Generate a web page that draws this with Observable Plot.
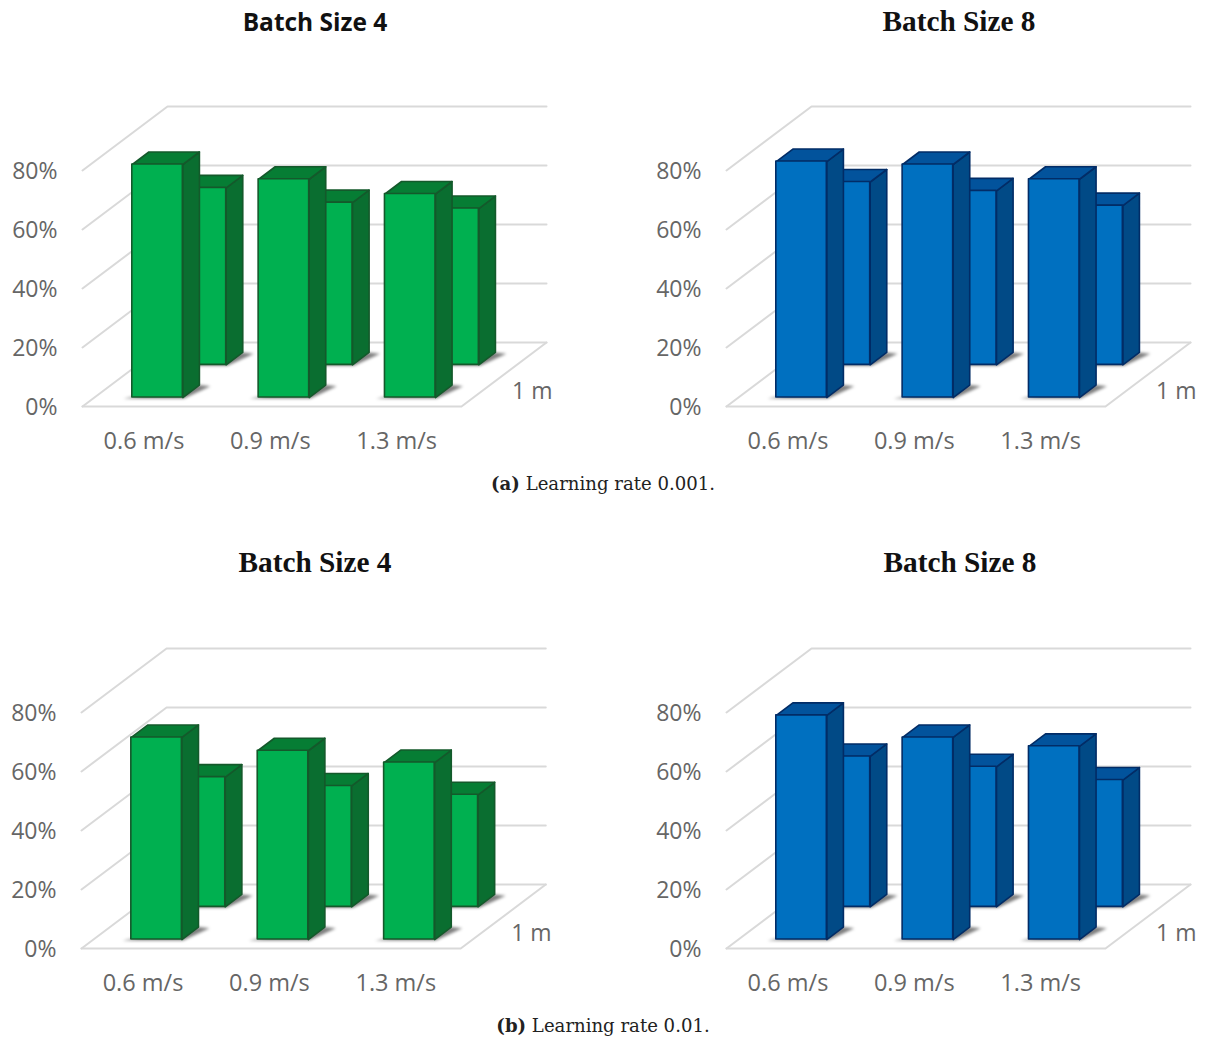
<!DOCTYPE html>
<html>
<head>
<meta charset="utf-8">
<script src="https://cdn.jsdelivr.net/npm/d3@7"></script>
<script src="https://cdn.jsdelivr.net/npm/@observablehq/plot@0.6"></script>
<style>
  html, body { margin: 0; padding: 0; background: #fff; overflow: hidden; }
  #page { position: relative; width: 1205px; height: 1038px; }
  #page svg { position: absolute; overflow: visible; }
  .title { position: absolute; transform: translateX(-50%); white-space: nowrap;
           font: bold 29.3px "Liberation Serif", serif; color: #111; }
  .title.sans { font: bold 24.5px "Open Sans", sans-serif; }
  .caption { position: absolute; transform: translateX(-50%); white-space: nowrap;
             font: 18.1px "DejaVu Serif", serif; color: #222; }
</style>
</head>
<body>
<div id="page"></div>
<script>
// Category and tick labels
const speeds = ["0.6 m/s", "0.9 m/s", "1.3 m/s"];
const percentTicks = [0, 20, 40, 60, 80];
const distanceLabel = "1 m";

// Accuracy (%) per speed: near row and far row of each panel
const lr001Batch4Near = [79, 74, 69];
const lr001Batch4Far = [60, 55, 53];
const lr001Batch8Near = [80, 79, 74];
const lr001Batch8Far = [62, 59, 54];
const lr01Batch4Near = [68.5, 64, 60];
const lr01Batch4Far = [44, 41, 38];
const lr01Batch8Near = [76, 68.5, 65.5];
const lr01Batch8Far = [51, 47.5, 43];

const green = {front: "#00b050", side: "#0a6e30", top: "#067d34", edge: "#14592b"};
const blue = {front: "#0070c0", side: "#014a86", top: "#02539c", edge: "#022c66"};

// Oblique projection: a unit of depth moves right along x and up the percent axis
const depthX = 0.673, depthY = 21.7;
const at = (u, d, v) => ({X: u + d * depthX, Y: v + d * depthY});
const halfWidth = 0.2, rowDepth = 0.195;
const rows = {near: 0.14, far: 0.65};

const poly = (points, options) =>
  Plot.line([...points, points[0]], {x: "X", y: "Y", curve: "linear", ...options});

function barMarks(i, value, d0, c) {
  const u0 = i + 0.5 - halfWidth, u1 = i + 0.5 + halfWidth, d1 = d0 + rowDepth;
  const edge = {stroke: c.edge, strokeWidth: 1.6, strokeLinejoin: "round"};
  const a = at(u0, d0, value), b = at(u1, d0, 0);
  return [
    // soft contact shadow on the floor
    poly([at(u0 - 0.06, d0 - 0.015, 0), at(u1 + 0.02, d0 - 0.015, 0), at(u1 + 0.1, d1 - 0.02, 0), at(u1, d1, 0)],
      {fill: "#000", fillOpacity: 0.5, stroke: "none", imageFilter: "blur(1.5px)"}),
    poly([at(u1, d0, 0), at(u1, d1, 0), at(u1, d1, value), at(u1, d0, value)], {fill: c.side, ...edge}),
    poly([at(u0, d0, value), at(u1, d0, value), at(u1, d1, value), at(u0, d1, value)], {fill: c.top, ...edge}),
    Plot.rect([{x1: a.X, x2: b.X, y1: b.Y, y2: a.Y}], {x1: "x1", x2: "x2", y1: "y1", y2: "y2", fill: c.front, ...edge})
  ];
}

function panel({near, far, colors, originX, floorY, unit}) {
  const left = originX - 82, top = floorY - 346;
  const pxPerPercent = 2.95;
  const marginLeft = 60, width = 600, plotHeight = 346;
  const wall = percentTicks.map((v) => [at(0, 0, v), at(0, 1, v), at(3, 1, v)]);
  const floorEdge = [at(0, 0, 0), at(3, 0, 0), at(3, 1, 0)];
  const grid = {x: "X", y: "Y", stroke: "#d9d9d9", strokeWidth: 2, curve: "linear"};

  const chart = Plot.plot({
    width, height: plotHeight + 60,
    marginLeft, marginRight: 0, marginTop: 0, marginBottom: 60,
    x: {domain: [(marginLeft - 82) / unit, (width - 82) / unit], range: [marginLeft, width]},
    y: {domain: [0, plotHeight / pxPerPercent], range: [plotHeight, 0]},
    style: {color: "#666666", background: "transparent", fontFamily: "'Open Sans', sans-serif"},
    marks: [
      wall.map((line) => Plot.line(line, grid)),
      Plot.line(floorEdge, grid),
      far.flatMap((v, i) => barMarks(i, v, rows.far, colors)),
      near.flatMap((v, i) => barMarks(i, v, rows.near, colors)),
      Plot.axisY({ticks: percentTicks, tickFormat: (d) => d + "%", tickSize: 0, tickPadding: 3, dy: 1.5, label: null, fontSize: 23}),
      Plot.axisX({ticks: speeds.map((_, i) => i + 0.5), tickFormat: (d) => speeds[Math.floor(d)],
        tickSize: 0, tickPadding: 26, dx: -1.7, label: null, fontSize: 23.5}),
      Plot.text([at(3, 0.5, 0)], {x: "X", y: "Y", text: () => distanceLabel, textAnchor: "start",
        dx: 8, dy: 17, fontSize: 23, fill: "#666666"})
    ]
  });
  chart.style.left = left + "px";
  chart.style.top = top + "px";
  return chart;
}

const page = document.getElementById("page");
const panels = [
  {near: lr001Batch4Near, far: lr001Batch4Far, colors: green, originX: 82, floorY: 406, unit: 126.33},
  {near: lr001Batch8Near, far: lr001Batch8Far, colors: blue, originX: 726, floorY: 406, unit: 126.33},
  {near: lr01Batch4Near, far: lr01Batch4Far, colors: green, originX: 81, floorY: 948, unit: 126.4},
  {near: lr01Batch8Near, far: lr01Batch8Far, colors: blue, originX: 726, floorY: 948, unit: 126.33}
];
panels.forEach((p) => page.append(panel(p)));

const addText = (cls, html, x, y) => {
  const el = document.createElement("div");
  el.className = cls;
  el.innerHTML = html;
  el.style.left = x + "px";
  el.style.top = y + "px";
  page.append(el);
};
addText("title sans", "Batch Size 4", 315, 5);
addText("title", "Batch Size 8", 959, 5);
addText("title", "Batch Size 4", 315, 546);
addText("title", "Batch Size 8", 960, 546);
addText("caption", "<b>(a)</b> Learning rate 0.001.", 603, 473);
addText("caption", "<b>(b)</b> Learning rate 0.01.", 603, 1015);
</script>
</body>
</html>
